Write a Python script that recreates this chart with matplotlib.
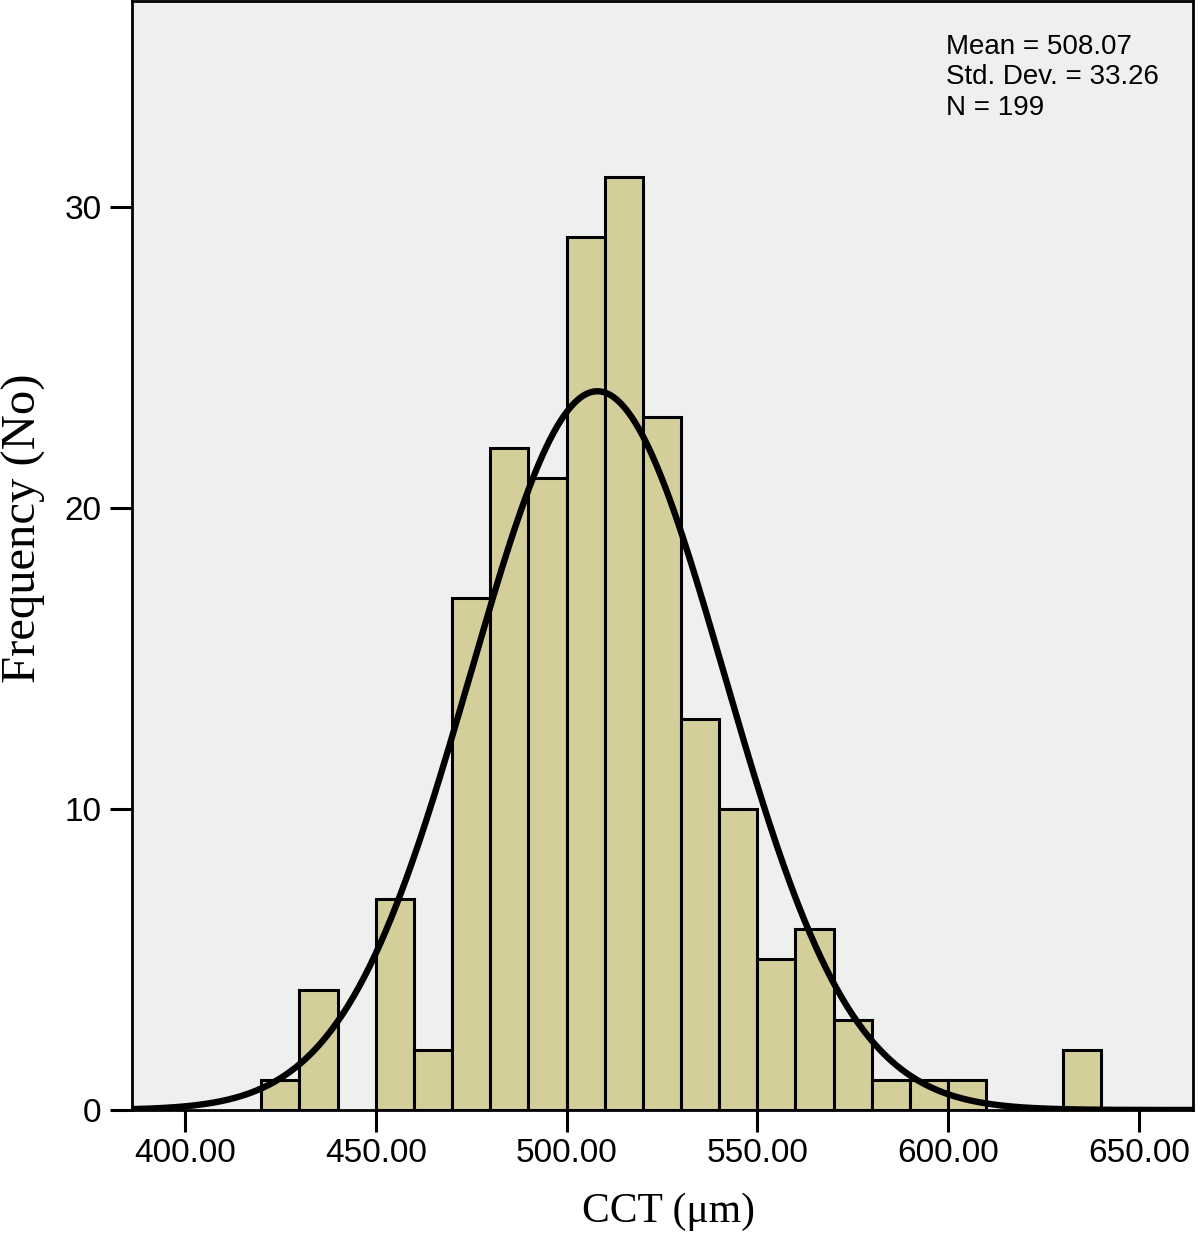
import numpy as np
import matplotlib
matplotlib.use("Agg")
import matplotlib.pyplot as plt

# Data
bin_left = [420, 430, 440, 450, 460, 470, 480, 490, 500, 510, 520,
            530, 540, 550, 560, 570, 580, 590, 600, 610, 620, 630]
counts = [1, 4, 0, 7, 2, 17, 22, 21, 29, 31, 23,
          13, 10, 5, 6, 3, 1, 1, 1, 0, 0, 2]
bin_width = 10
mean_val = 508.07
std_val = 33.26
n_val = 199
xticks = [400, 450, 500, 550, 600, 650]
yticks = [0, 10, 20, 30]

fig = plt.figure(figsize=(12, 12.34), dpi=100)
ax = fig.add_axes([132/1200, 124/1234, (1193-132)/1200, (1233-124)/1234])
ax.set_facecolor("#EFEFEF")

for l, c in zip(bin_left, counts):
    if c > 0:
        ax.bar(l, c, width=bin_width, align="edge", color="#D4CF9A",
               edgecolor="black", linewidth=2.2, zorder=2)

xs = np.linspace(386.1, 664.2, 600)
ys = n_val * bin_width * np.exp(-0.5 * ((xs - mean_val) / std_val) ** 2) / (std_val * np.sqrt(2 * np.pi))
ax.plot(xs, ys, color="black", linewidth=4.6, zorder=3, solid_capstyle="butt")

ax.set_xlim(386.1, 664.2)
ax.set_ylim(0, 36.83)
ax.set_xticks(xticks)
ax.set_xticklabels([f"{v:.2f}" for v in xticks])
ax.set_yticks(yticks)
ax.set_yticklabels([str(v) for v in yticks])

for s in ax.spines.values():
    s.set_linewidth(2.0)
    s.set_color("black")
    s.set_zorder(4)

ax.tick_params(axis="both", direction="out", length=16, width=2.2, labelsize=24)
ax.tick_params(axis="x", pad=4)
ax.tick_params(axis="y", pad=6)
for lab in ax.get_xticklabels() + ax.get_yticklabels():
    lab.set_family(["Liberation Sans", "DejaVu Sans"])

ax.set_xlabel("CCT (μm)", fontsize=30, family=["Liberation Serif", "DejaVu Serif"])
ax.xaxis.set_label_coords((669 - 132) / 1061, -(1212 - 1110) / 1109)
ax.xaxis.label.set_verticalalignment("center")

ax.set_ylabel("Frequency (No)", fontsize=35, family=["Liberation Serif", "DejaVu Serif"])
ax.yaxis.set_label_coords((24 - 132) / 1061, (1110 - 528) / 1109)
ax.yaxis.label.set_verticalalignment("center")

fig.text(946/1200, 1 - 34/1234,
         f"Mean = {mean_val:.2f}\nStd. Dev. = {std_val:.2f}\nN = {n_val}",
         ha="left", va="top", fontsize=20, linespacing=1.22,
         family=["Liberation Sans", "DejaVu Sans"])

fig.savefig("out.png", dpi=100)
